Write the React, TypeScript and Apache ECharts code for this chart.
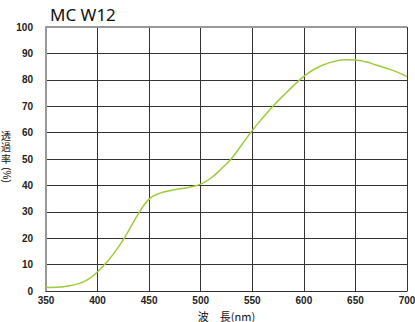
import React, { useEffect, useRef } from "react";
import * as echarts from "echarts";

const title = "MC W12";
const wavelengths = [350, 360, 370, 380, 390, 400, 410, 420, 430, 440, 450, 460, 470, 480, 490, 500, 510, 520, 530, 540, 550, 560, 570, 580, 590, 600, 610, 620, 630, 640, 650, 660, 670, 680, 690, 700];
const transmittance = [1.3, 1.4, 1.8, 2.6, 4.2, 7.3, 11.4, 16.5, 22.8, 29.5, 34.8, 37.0, 38.0, 38.7, 39.4, 40.5, 42.8, 46.3, 50.3, 55.5, 60.8, 65.5, 70.0, 74.0, 77.8, 81.3, 84.0, 85.8, 87.0, 87.6, 87.5, 86.8, 85.6, 84.4, 83.0, 81.2];
const xName = "波　長(nm)";
const yNameChars = ["透", "過", "率"];
const yNameCenters = [136, 147.5, 159];
const yNameUnit = "(%)";

export default function App() {
  const ref = useRef<HTMLDivElement>(null);
  useEffect(() => {
    if (!ref.current) return;
    const chart = echarts.init(ref.current, null, { renderer: "svg" });
    const font = "'Noto Sans CJK JP', 'Noto Sans', sans-serif";
    const nameFont = "'Liberation Sans', 'Noto Sans CJK JP', sans-serif";
    chart.setOption({
      animation: false,
      backgroundColor: "#fff",
      title: {
        text: title,
        left: 45,
        top: 1,
        textStyle: { fontSize: 17, fontWeight: "normal", color: "#111", fontFamily: "'Noto Sans', sans-serif" },
      },
      grid: { left: 46, right: 8, top: 27, bottom: 31, containLabel: false, outerBoundsMode: "none" },
      xAxis: {
        type: "value",
        min: 350,
        max: 700,
        interval: 50,
        name: xName,
        nameLocation: "middle",
        nameGap: 19,
        nameTextStyle: { fontSize: 11, color: "#111", fontFamily: font },
        axisLine: { show: true, lineStyle: { color: "#333", width: 1 } },
        axisTick: { show: false },
        axisLabel: { fontSize: 10, color: "#222", margin: 4, fontFamily: "'Liberation Sans', Arial, sans-serif", fontWeight: "bold" },
        splitLine: { show: true, lineStyle: { color: "#333", width: 1 } },
      },
      yAxis: {
        type: "value",
        min: 0,
        max: 100,
        interval: 10,
        axisLine: { show: true, lineStyle: { color: "#999", width: 2 } },
        axisTick: { show: false },
        axisLabel: { fontSize: 10, color: "#222", margin: 13, fontFamily: "'Liberation Sans', Arial, sans-serif", fontWeight: "bold" },
        splitLine: { show: true, lineStyle: { color: "#333", width: 1 } },
      },
      graphic: [
        ...yNameChars.map((c, i) => ({
          type: "text",
          x: 6,
          y: yNameCenters[i],
          style: {
            text: c,
            fontSize: 10,
            fill: "#111",
            fontFamily: nameFont,
            align: "center",
            verticalAlign: "middle",
          },
        })),
        {
          type: "text",
          x: 6,
          y: 175,
          rotation: -Math.PI / 2,
          style: {
            text: yNameUnit,
            fontSize: 10,
            fill: "#111",
            fontFamily: nameFont,
            align: "center",
            verticalAlign: "middle",
          },
        },
        {
          type: "line",
          shape: { x1: 46, y1: 27, x2: 407, y2: 27 },
          style: { stroke: "#999", lineWidth: 2 },
          z: 10,
        },
      ],
      series: [
        {
          type: "line",
          data: wavelengths.map((w, i) => [w, transmittance[i]]),
          smooth: 0.5,
          showSymbol: false,
          lineStyle: { color: "#9ccc3a", width: 1.5 },
          z: 5,
        },
      ],
    });
    return () => chart.dispose();
  }, []);
  return <div ref={ref} style={{ width: 415, height: 322, position: "absolute", left: 0, top: 0 }} />;
}
